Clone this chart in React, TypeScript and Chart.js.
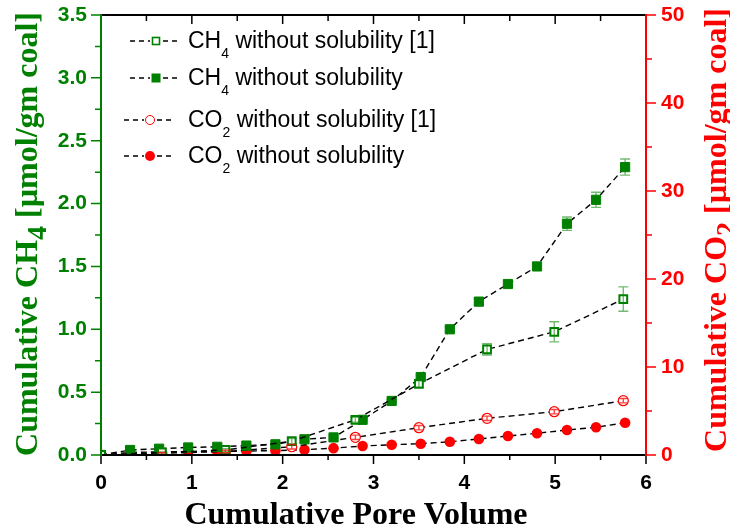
import React, { useEffect, useRef } from "react";
import { Chart, registerables } from "chart.js";

Chart.register(...registerables);

const GREEN = "#008000";
const RED = "#ff0000";
const GREEN_BAR = "rgba(0,128,0,0.55)";
const RED_BAR = "rgba(255,0,0,0.75)";

// ---- data: this work (filled markers)
const xFilled = [0, 0.32, 0.64, 0.96, 1.28, 1.6, 1.92, 2.24, 2.56, 2.88, 3.2, 3.52, 3.84, 4.16, 4.48, 4.8, 5.13, 5.45, 5.77];
const ch4Filled = [0, 0.04, 0.05, 0.06, 0.065, 0.075, 0.085, 0.125, 0.14, 0.28, 0.43, 0.62, 1.0, 1.22, 1.36, 1.5, 1.84, 2.03, 2.29];
const ch4FilledErr = [0, 0.005, 0.005, 0.005, 0.005, 0.005, 0.01, 0.01, 0.01, 0.01, 0.01, 0.015, 0.015, 0.02, 0.02, 0.025, 0.053, 0.06, 0.064];
const co2Filled = [0, 0.3, 0.35, 0.38, 0.4, 0.45, 0.5, 0.6, 0.78, 1.02, 1.17, 1.28, 1.51, 1.82, 2.16, 2.47, 2.84, 3.15, 3.67];

// ---- data: reference [1] (open markers)
const xOpen = [0, 0.67, 1.37, 2.1, 2.8, 3.5, 4.25, 4.99, 5.75];
const ch4Open = [0, 0.02, 0.04, 0.11, 0.28, 0.565, 0.84, 0.98, 1.24];
const ch4OpenErr = [0, 0.005, 0.01, 0.02, 0.02, 0.025, 0.045, 0.08, 0.097];
const co2Open = [0, 0.2, 0.4, 0.94, 2.01, 3.1, 4.17, 4.92, 6.17];
const co2OpenErr = [0, 0.1, 0.15, 0.25, 0.25, 0.25, 0.25, 0.25, 0.25];

// ---- ticks
const xTickValues = [0, 1, 2, 3, 4, 5, 6];
const yLeftTickValues = [0, 0.5, 1, 1.5, 2, 2.5, 3, 3.5];
const yRightTickValues = [0, 10, 20, 30, 40, 50];

// ---- text
const legendMain = ["CH", "CH", "CO", "CO"];
const legendSub = ["4", "4", "2", "2"];
const legendRest = [" without solubility [1]", " without solubility", " without solubility [1]", " without solubility"];
const xTitle = "Cumulative Pore Volume";
const yLeftTitle = ["Cumulative CH", "4", " [µmol/gm coal]"];
const yRightTitle = ["Cumulative CO", "2", " [µmol/gm coal]"];

const SANS = "'Liberation Sans', Arial, sans-serif";
const SERIF = "'Liberation Serif', 'Times New Roman', serif";

type Part = { t: string; sub?: boolean };

function drawRich(ctx: CanvasRenderingContext2D, parts: Part[], x: number, y: number, mainFont: string, subFont: string, subDy: number, center: boolean) {
  const widths = parts.map((p) => {
    ctx.font = p.sub ? subFont : mainFont;
    return ctx.measureText(p.t).width;
  });
  const total = widths.reduce((a, b) => a + b, 0);
  let cx = center ? x - total / 2 : x;
  ctx.textAlign = "left";
  ctx.textBaseline = "alphabetic";
  parts.forEach((p, i) => {
    ctx.font = p.sub ? subFont : mainFont;
    ctx.fillText(p.t, cx, y + (p.sub ? subDy : 0));
    cx += widths[i];
  });
}

function drawMarker(ctx: CanvasRenderingContext2D, kind: string, x: number, y: number) {
  ctx.save();
  ctx.setLineDash([]);
  if (kind === "openSquare") {
    ctx.fillStyle = "#fff";
    ctx.strokeStyle = GREEN;
    ctx.lineWidth = 1.6;
    ctx.fillRect(x - 4, y - 4, 8, 8);
    ctx.strokeRect(x - 3.5, y - 3.5, 7, 7);
  } else if (kind === "filledSquare") {
    ctx.fillStyle = GREEN;
    ctx.fillRect(x - 4.5, y - 4.5, 9, 9);
  } else if (kind === "openCircle") {
    ctx.fillStyle = "#fff";
    ctx.strokeStyle = RED;
    ctx.lineWidth = 1;
    ctx.beginPath();
    ctx.arc(x, y, 4.5, 0, Math.PI * 2);
    ctx.fill();
    ctx.stroke();
  } else {
    ctx.fillStyle = RED;
    ctx.beginPath();
    ctx.arc(x, y, 5, 0, Math.PI * 2);
    ctx.fill();
  }
  ctx.restore();
}

function drawErrorBars(chart: any, xs: number[], ys: number[], errs: number[], yScaleId: string, color: string, capHalf: number) {
  const ctx = chart.ctx as CanvasRenderingContext2D;
  const sx = chart.scales.x;
  const sy = chart.scales[yScaleId];
  ctx.save();
  ctx.strokeStyle = color;
  ctx.lineWidth = 1.4;
  ctx.setLineDash([]);
  for (let i = 0; i < xs.length; i++) {
    if (!errs[i]) continue;
    const px = sx.getPixelForValue(xs[i]);
    const top = sy.getPixelForValue(ys[i] + errs[i]);
    const bot = sy.getPixelForValue(ys[i] - errs[i]);
    ctx.beginPath();
    ctx.moveTo(px, top);
    ctx.lineTo(px, bot);
    ctx.moveTo(px - capHalf, top);
    ctx.lineTo(px + capHalf, top);
    ctx.moveTo(px - capHalf, bot);
    ctx.lineTo(px + capHalf, bot);
    ctx.stroke();
  }
  ctx.restore();
}

const framePlugin = {
  id: "frameAndText",
  beforeDatasetsDraw(chart: any) {
    drawErrorBars(chart, xFilled, ch4Filled, ch4FilledErr, "y", GREEN_BAR, 5);
  },
  afterDatasetsDraw(chart: any) {
    drawErrorBars(chart, xOpen, ch4Open, ch4OpenErr, "y", GREEN_BAR, 5);
    drawErrorBars(chart, xOpen, co2Open, co2OpenErr, "y2", RED_BAR, 4);

    const ctx = chart.ctx as CanvasRenderingContext2D;
    const a = chart.chartArea;
    const sx = chart.scales.x;
    const sy = chart.scales.y;
    const sy2 = chart.scales.y2;
    ctx.save();
    ctx.setLineDash([]);
    ctx.lineCap = "butt";
    // bottom & top frame
    ctx.strokeStyle = "#000";
    ctx.lineWidth = 2;
    ctx.beginPath();
    ctx.moveTo(a.left, a.bottom);
    ctx.lineTo(a.right, a.bottom);
    ctx.moveTo(a.left, a.top);
    ctx.lineTo(a.right, a.top);
    ctx.stroke();
    // x ticks (bottom outward, top inward)
    ctx.lineWidth = 1.5;
    ctx.beginPath();
    for (let i = 0; i < xTickValues.length; i++) {
      const v = xTickValues[i];
      const p = sx.getPixelForValue(v);
      ctx.moveTo(p, a.bottom);
      ctx.lineTo(p, a.bottom + 9);
      ctx.moveTo(p, a.top);
      ctx.lineTo(p, a.top + 9);
      if (i < xTickValues.length - 1) {
        const m = sx.getPixelForValue((v + xTickValues[i + 1]) / 2);
        ctx.moveTo(m, a.bottom);
        ctx.lineTo(m, a.bottom + 5);
        ctx.moveTo(m, a.top);
        ctx.lineTo(m, a.top + 6);
      }
    }
    ctx.stroke();
    // left axis
    ctx.strokeStyle = GREEN;
    ctx.lineWidth = 2;
    ctx.beginPath();
    ctx.moveTo(a.left, a.top - 1);
    ctx.lineTo(a.left, a.bottom + 1);
    ctx.stroke();
    ctx.lineWidth = 1.5;
    ctx.beginPath();
    for (let i = 0; i < yLeftTickValues.length; i++) {
      const v = yLeftTickValues[i];
      const p = sy.getPixelForValue(v);
      ctx.moveTo(a.left, p);
      ctx.lineTo(a.left - 10, p);
      if (i < yLeftTickValues.length - 1) {
        const m = sy.getPixelForValue((v + yLeftTickValues[i + 1]) / 2);
        ctx.moveTo(a.left, m);
        ctx.lineTo(a.left - 6, m);
      }
    }
    ctx.stroke();
    // right axis
    ctx.strokeStyle = RED;
    ctx.lineWidth = 2;
    ctx.beginPath();
    ctx.moveTo(a.right, a.top - 1);
    ctx.lineTo(a.right, a.bottom + 1);
    ctx.stroke();
    ctx.lineWidth = 1.5;
    ctx.beginPath();
    for (let i = 0; i < yRightTickValues.length; i++) {
      const v = yRightTickValues[i];
      const p = sy2.getPixelForValue(v);
      ctx.moveTo(a.right, p);
      ctx.lineTo(a.right + 10, p);
      if (i < yRightTickValues.length - 1) {
        const m = sy2.getPixelForValue((v + yRightTickValues[i + 1]) / 2);
        ctx.moveTo(a.right, m);
        ctx.lineTo(a.right + 6, m);
      }
    }
    ctx.stroke();
    ctx.restore();
  },
  afterDraw(chart: any) {
    const ctx = chart.ctx as CanvasRenderingContext2D;
    ctx.save();
    // legend
    const kinds = ["openSquare", "filledSquare", "openCircle", "filledCircle"];
    const baselines = [48, 85, 127, 163];
    const markerX = [156, 156, 150, 150];
    const lineL = [130, 130, 124, 124];
    const lineR = [180, 180, 173, 173];
    for (let i = 0; i < kinds.length; i++) {
      const cy = baselines[i] - 7;
      ctx.strokeStyle = "#000";
      ctx.lineWidth = 1.3;
      ctx.setLineDash([5, 4]);
      ctx.beginPath();
      ctx.moveTo(lineL[i], cy);
      ctx.lineTo(markerX[i] - 6, cy);
      ctx.moveTo(markerX[i] + 7, cy);
      ctx.lineTo(lineR[i], cy);
      ctx.stroke();
      ctx.setLineDash([]);
      drawMarker(ctx, kinds[i], markerX[i], cy);
      ctx.fillStyle = "#000";
      drawRich(
        ctx,
        [{ t: legendMain[i] }, { t: legendSub[i], sub: true }, { t: legendRest[i] }],
        188,
        baselines[i],
        `23px ${SANS}`,
        `14px ${SANS}`,
        10,
        false
      );
    }
    // x title
    ctx.fillStyle = "#000";
    drawRich(ctx, [{ t: xTitle }], 356, 524, `bold 32px ${SERIF}`, `bold 32px ${SERIF}`, 0, true);
    // left title
    ctx.save();
    ctx.translate(37, 234);
    ctx.rotate(-Math.PI / 2);
    ctx.fillStyle = GREEN;
    drawRich(
      ctx,
      [{ t: yLeftTitle[0] }, { t: yLeftTitle[1], sub: true }, { t: yLeftTitle[2] }],
      0,
      0,
      `bold 32px ${SERIF}`,
      `bold 28px ${SERIF}`,
      9,
      true
    );
    ctx.restore();
    // right title
    ctx.save();
    ctx.translate(726, 230);
    ctx.rotate(-Math.PI / 2);
    ctx.fillStyle = RED;
    drawRich(
      ctx,
      [{ t: yRightTitle[0] }, { t: yRightTitle[1], sub: true }, { t: yRightTitle[2] }],
      0,
      0,
      `bold 32px ${SERIF}`,
      `bold 28px ${SERIF}`,
      9,
      true
    );
    ctx.restore();
    ctx.restore();
  },
};

function pts(xs: number[], ys: number[]) {
  return xs.map((x, i) => ({ x, y: ys[i] }));
}

export default function App() {
  const ref = useRef<HTMLCanvasElement | null>(null);
  useEffect(() => {
    document.body.style.margin = "0";
    const canvas = ref.current;
    if (!canvas) return;
    const lineCommon = {
      borderColor: "#000",
      borderWidth: 1.4,
      borderDash: [6, 4],
      tension: 0,
      fill: false,
      clip: 0,
      showLine: true,
    };
    const tickFont = { family: SANS, size: 21, weight: "bold" as const };
    const chart = new Chart(canvas, {
      type: "line",
      data: {
        datasets: [
          {
            ...lineCommon,
            label: "CH4 without solubility [1]",
            data: pts(xOpen, ch4Open),
            yAxisID: "y",
            pointStyle: "rect",
            pointRadius: 5.5,
            pointBorderWidth: 2,
            pointBorderColor: GREEN,
            pointBackgroundColor: "#fff",
          },
          {
            ...lineCommon,
            label: "CH4 without solubility",
            data: pts(xFilled, ch4Filled),
            yAxisID: "y",
            pointStyle: "rect",
            pointRadius: 6.5,
            pointBorderWidth: 1,
            pointBorderColor: GREEN,
            pointBackgroundColor: GREEN,
          },
          {
            ...lineCommon,
            label: "CO2 without solubility [1]",
            data: pts(xOpen, co2Open),
            yAxisID: "y2",
            pointStyle: "circle",
            pointRadius: 5,
            pointBorderWidth: 1.2,
            pointBorderColor: RED,
            pointBackgroundColor: "#fff",
          },
          {
            ...lineCommon,
            label: "CO2 without solubility",
            data: pts(xFilled, co2Filled),
            yAxisID: "y2",
            pointStyle: "circle",
            pointRadius: 5.3,
            pointBorderWidth: 0,
            pointBorderColor: RED,
            pointBackgroundColor: RED,
          },
        ],
      },
      options: {
        responsive: false,
        animation: false,
        events: [],
        layout: { padding: { top: 15, left: 0, right: 0, bottom: 0 } },
        plugins: { legend: { display: false }, tooltip: { enabled: false }, title: { display: false } },
        scales: {
          x: {
            type: "linear",
            position: "bottom",
            min: 0,
            max: 6,
            grid: { display: false, drawTicks: false },
            border: { display: false },
            ticks: { color: "#000", font: tickFont, padding: 16, maxRotation: 0 },
            afterBuildTicks: (s: any) => {
              s.ticks = xTickValues.map((v) => ({ value: v }));
            },
            afterFit: (s: any) => {
              s.height = 74;
              s.paddingLeft = 0;
              s.paddingRight = 0;
            },
          },
          y: {
            type: "linear",
            position: "left",
            min: 0,
            max: 3.5,
            grid: { display: false, drawTicks: false },
            border: { display: false },
            ticks: { color: GREEN, font: tickFont, padding: 14, callback: (v: any) => Number(v).toFixed(1) },
            afterBuildTicks: (s: any) => {
              s.ticks = yLeftTickValues.map((v) => ({ value: v }));
            },
            afterFit: (s: any) => {
              s.width = 101;
              s.paddingTop = 0;
              s.paddingBottom = 0;
            },
          },
          y2: {
            type: "linear",
            position: "right",
            min: 0,
            max: 50,
            grid: { display: false, drawTicks: false },
            border: { display: false },
            ticks: { color: RED, font: tickFont, padding: 15, callback: (v: any) => String(v) },
            afterBuildTicks: (s: any) => {
              s.ticks = yRightTickValues.map((v) => ({ value: v }));
            },
            afterFit: (s: any) => {
              s.width = 84;
              s.paddingTop = 0;
              s.paddingBottom = 0;
            },
          },
        },
      },
      plugins: [framePlugin],
    } as any);
    return () => chart.destroy();
  }, []);
  return (
    <div style={{ width: 730, height: 529, background: "#fff" }}>
      <canvas ref={ref} width={730} height={529} style={{ display: "block" }} />
    </div>
  );
}
